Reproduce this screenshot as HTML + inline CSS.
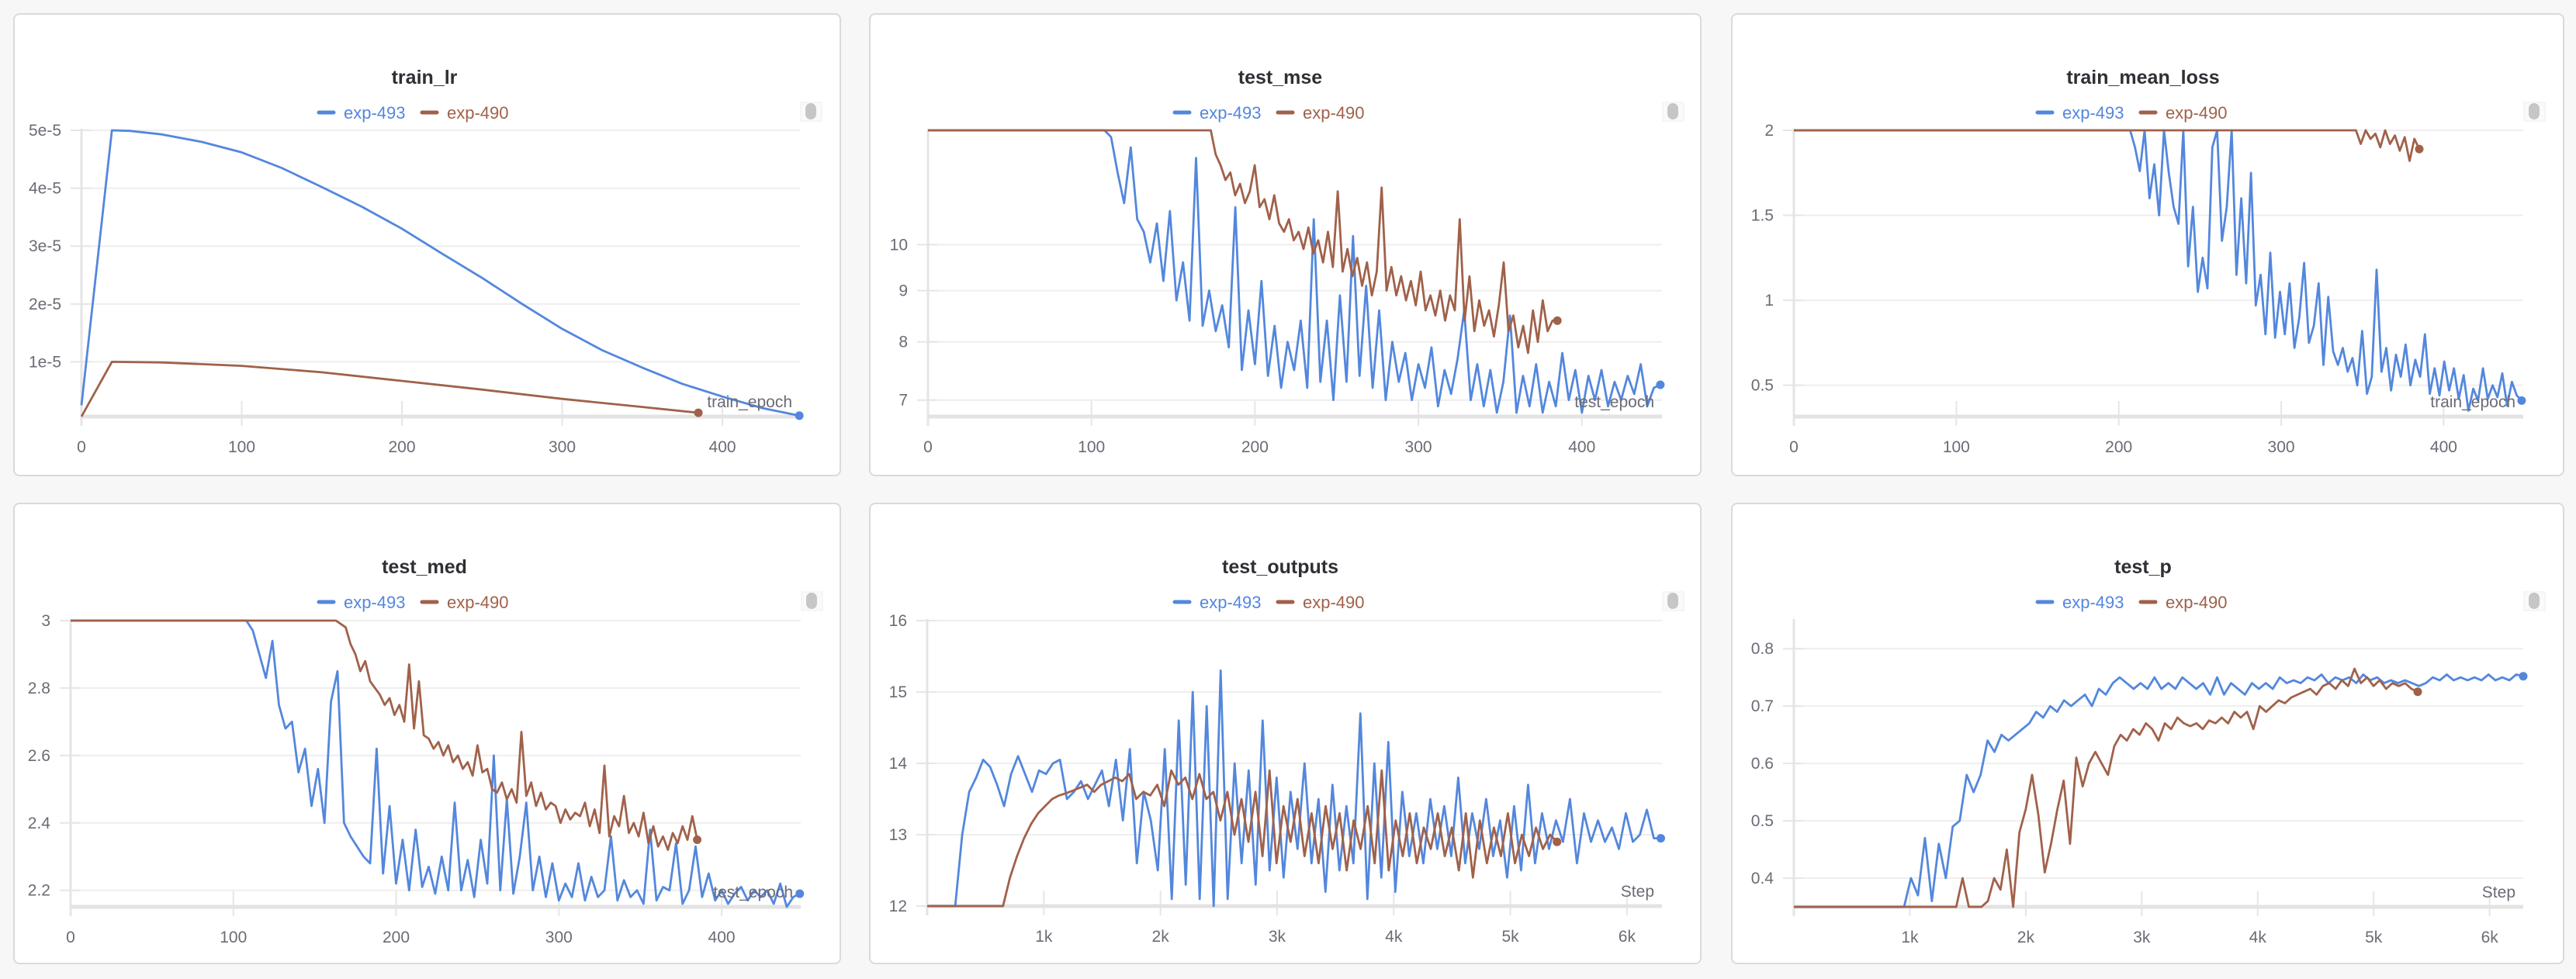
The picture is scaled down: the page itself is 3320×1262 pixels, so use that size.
<!DOCTYPE html>
<html><head><meta charset="utf-8">
<style>
html,body{margin:0;padding:0;}
body{width:3320px;height:1262px;background:#f7f7f7;position:relative;overflow:hidden;font-family:"Liberation Sans",sans-serif;}
.panel{position:absolute;background:#fff;border:2px solid #dadada;border-radius:8px;box-sizing:border-box;}
svg{position:absolute;left:0;top:0;}
</style></head>
<body>
<div class="panel" style="left:17px;top:17px;width:1067px;height:597px"></div>
<div class="panel" style="left:1120px;top:17px;width:1073px;height:597px"></div>
<div class="panel" style="left:2231px;top:17px;width:1074px;height:597px"></div>
<div class="panel" style="left:17px;top:648px;width:1067px;height:595px"></div>
<div class="panel" style="left:1120px;top:648px;width:1073px;height:595px"></div>
<div class="panel" style="left:2231px;top:648px;width:1074px;height:595px"></div>
<svg id="chart" width="3320" height="1262"></svg>
<script>
// ---- data ----
const epochTicks = [0, 100, 200, 300, 400];
const stepTicks = [1, 2, 3, 4, 5, 6];
const stepTickLabels = ['1k', '2k', '3k', '4k', '5k', '6k'];
const seriesNames = ['exp-493', 'exp-490'];

const lrTicks = [1, 2, 3, 4, 5];
const lrTickLabels = ['1e-5', '2e-5', '3e-5', '4e-5', '5e-5'];
const lrBlueX = [0, 19, 30, 50, 75, 100, 125, 150, 175, 200, 225, 250, 275, 300, 325, 350, 375, 400, 425, 448];
const lrBlue = [0.25, 5, 4.99, 4.93, 4.8, 4.62, 4.35, 4.02, 3.68, 3.3, 2.87, 2.45, 2.0, 1.57, 1.2, 0.9, 0.62, 0.4, 0.2, 0.07];
const lrBrownX = [0, 19, 50, 100, 150, 200, 250, 300, 350, 385];
const lrBrown = [0, 1.0, 0.99, 0.93, 0.82, 0.67, 0.52, 0.36, 0.22, 0.12];

const mseTicks = [7, 8, 9, 10];
const mseBlueRange = [108, 448];
const mseBlue = [13.5,12.8,11.8,11.0,12.5,10.6,10.3,9.6,10.5,9.2,10.8,8.8,9.6,8.4,12.2,8.3,9.0,8.2,8.7,7.9,10.9,7.5,8.6,7.6,9.2,7.4,8.3,7.2,8.0,7.5,8.4,7.2,10.6,7.3,8.4,7.0,8.9,7.3,10.2,7.4,9.1,7.2,8.6,7.0,8.0,7.3,7.8,7.0,7.6,7.2,7.9,6.9,7.5,7.1,7.7,8.6,7.0,7.6,6.9,7.5,6.8,7.3,8.5,6.8,7.4,6.9,7.6,6.8,7.3,6.9,7.8,7.0,7.5,6.8,7.4,7.0,7.5,6.9,7.3,7.0,7.4,7.1,7.6,6.9,7.2,7.25];
const mseBrownRange = [173, 385];
const mseBrown = [13.2,12.3,12.0,11.6,11.8,11.2,11.5,11.0,11.3,12.0,10.9,11.1,10.6,11.2,10.5,10.3,10.6,10.1,10.3,9.9,10.4,9.8,10.1,9.6,10.3,9.5,11.3,9.4,9.9,9.3,9.7,9.1,9.6,8.9,9.4,11.4,9.0,9.5,8.9,9.3,8.8,9.2,8.7,9.4,8.6,8.9,8.5,9.0,8.4,8.9,8.6,10.6,8.4,9.3,8.2,8.8,8.3,8.6,8.1,8.7,9.6,8.2,8.5,7.9,8.3,7.8,8.6,8.0,8.8,8.2,8.4,8.4];

const lossTicks = [0.5, 1, 1.5, 2];
const lossBlueRange = [207, 448];
const lossBlue = [2.1,1.9,1.76,2.05,1.6,1.8,1.5,2.1,1.75,1.55,1.45,2.1,1.2,1.55,1.05,1.25,1.07,1.9,2.2,1.35,1.55,2.1,1.15,1.6,1.1,1.75,0.97,1.15,0.8,1.28,0.78,1.05,0.8,1.1,0.72,0.9,1.22,0.75,0.85,1.1,0.62,1.02,0.7,0.62,0.72,0.58,0.66,0.5,0.82,0.45,0.55,1.18,0.58,0.72,0.47,0.68,0.55,0.74,0.5,0.65,0.55,0.8,0.45,0.6,0.44,0.64,0.47,0.6,0.42,0.56,0.35,0.48,0.41,0.6,0.42,0.5,0.43,0.57,0.38,0.52,0.44,0.41];
const lossBrownRange = [346, 385];
const lossBrown = [2.05,1.92,2.0,1.95,1.98,1.9,2.0,1.92,1.97,1.88,1.96,1.82,1.95,1.89];

const medTicks = [2.2, 2.4, 2.6, 2.8, 3];
const medBlueRange = [108, 448];
const medBlue = [3.02,2.97,2.9,2.83,2.94,2.75,2.68,2.7,2.55,2.62,2.45,2.56,2.40,2.76,2.85,2.4,2.36,2.33,2.3,2.28,2.62,2.25,2.45,2.22,2.35,2.2,2.38,2.21,2.27,2.19,2.3,2.2,2.46,2.2,2.29,2.18,2.35,2.22,2.6,2.2,2.47,2.19,2.3,2.46,2.2,2.3,2.18,2.28,2.17,2.22,2.18,2.28,2.17,2.24,2.18,2.2,2.36,2.17,2.23,2.18,2.2,2.16,2.38,2.17,2.21,2.2,2.34,2.16,2.2,2.33,2.18,2.25,2.17,2.2,2.16,2.19,2.21,2.17,2.2,2.18,2.2,2.16,2.22,2.15,2.18,2.19];
const medBrownRange = [163, 385];
const medBrown = [3.02,2.99,2.98,2.93,2.9,2.85,2.88,2.82,2.8,2.78,2.75,2.77,2.72,2.75,2.7,2.87,2.68,2.82,2.66,2.65,2.62,2.64,2.6,2.63,2.58,2.6,2.56,2.58,2.54,2.63,2.55,2.56,2.5,2.49,2.52,2.47,2.5,2.46,2.67,2.48,2.52,2.45,2.49,2.44,2.46,2.45,2.4,2.44,2.41,2.43,2.42,2.46,2.39,2.44,2.37,2.57,2.36,2.42,2.39,2.48,2.37,2.4,2.36,2.43,2.34,2.39,2.33,2.36,2.32,2.37,2.34,2.39,2.35,2.42,2.35];

const outTicks = [12, 13, 14, 15, 16];
const outBlueRange = [0.24, 6.29];
const outBlue = [12.0,13.0,13.6,13.8,14.05,13.95,13.7,13.4,13.85,14.1,13.85,13.6,13.9,13.85,14.0,14.05,13.5,13.6,13.75,13.5,13.7,13.9,13.4,14.05,13.2,14.2,12.6,13.6,13.2,12.5,14.2,12.1,14.6,12.3,15.0,12.1,14.8,12.0,15.3,12.1,14.0,12.6,13.9,12.3,14.6,12.5,13.8,12.4,13.6,12.8,14.0,12.6,13.5,12.2,13.7,12.5,13.4,12.6,14.7,12.1,14.0,12.4,14.3,12.2,13.6,12.7,13.3,12.6,13.5,12.8,13.4,12.7,13.8,12.6,13.3,12.8,13.5,12.7,13.2,12.4,13.4,12.5,13.7,12.6,13.3,12.8,13.2,12.9,13.5,12.6,13.3,12.9,13.2,12.9,13.1,12.8,13.3,12.9,13.0,13.35,12.95,12.95];
const outBrownRange = [0.65, 5.4];
const outBrown = [12.0,12.4,12.7,12.95,13.15,13.3,13.4,13.5,13.55,13.58,13.62,13.66,13.7,13.6,13.7,13.75,13.8,13.75,13.85,13.5,13.6,13.55,13.7,13.4,13.9,13.7,13.8,13.5,13.85,13.5,13.6,13.2,13.6,13.0,13.5,12.9,13.6,12.7,13.9,12.6,13.4,12.9,13.5,12.7,13.3,12.6,13.4,12.8,13.3,12.5,13.2,12.8,13.4,12.6,13.9,12.5,13.2,12.7,13.3,12.6,13.1,12.8,13.3,12.7,13.1,12.5,13.3,12.4,13.2,12.6,13.1,12.7,13.3,12.6,13.0,12.7,13.1,12.8,13.0,12.9];

const pTicks = [0.4, 0.5, 0.6, 0.7, 0.8];
const pBlueRange = [0.95, 6.29];
const pBlue = [0.35,0.40,0.37,0.47,0.36,0.46,0.40,0.49,0.5,0.58,0.55,0.58,0.64,0.62,0.65,0.64,0.65,0.66,0.67,0.69,0.68,0.7,0.69,0.71,0.7,0.71,0.72,0.7,0.73,0.72,0.74,0.75,0.74,0.73,0.74,0.73,0.75,0.73,0.74,0.73,0.75,0.74,0.73,0.74,0.72,0.75,0.72,0.74,0.73,0.72,0.74,0.73,0.74,0.73,0.75,0.74,0.745,0.74,0.75,0.745,0.755,0.74,0.75,0.745,0.75,0.74,0.755,0.745,0.75,0.74,0.745,0.74,0.745,0.74,0.735,0.74,0.75,0.745,0.755,0.745,0.75,0.745,0.75,0.745,0.755,0.745,0.75,0.745,0.755,0.752];
const pBrownRange = [1.40, 5.38];
const pBrown = [0.35,0.40,0.35,0.35,0.35,0.36,0.40,0.38,0.45,0.35,0.48,0.52,0.58,0.51,0.41,0.46,0.52,0.57,0.46,0.61,0.56,0.6,0.62,0.6,0.58,0.63,0.65,0.64,0.66,0.65,0.67,0.66,0.64,0.67,0.66,0.68,0.67,0.665,0.67,0.66,0.675,0.67,0.68,0.67,0.69,0.68,0.69,0.66,0.7,0.69,0.7,0.71,0.705,0.715,0.72,0.725,0.73,0.72,0.735,0.74,0.73,0.745,0.735,0.765,0.74,0.75,0.735,0.745,0.73,0.74,0.735,0.74,0.73,0.725];

// ---- rendering ----
const BLUE = '#5387dd', BROWN = '#a0614a';
const svg = document.getElementById('chart');
const NS = 'http://www.w3.org/2000/svg';
function mk(tag, attrs, parent) {
  const e = document.createElementNS(NS, tag);
  for (const k in attrs) e.setAttribute(k, attrs[k]);
  (parent || svg).appendChild(e);
  return e;
}
function spread(range, vals) {
  const n = vals.length;
  return vals.map((v, i) => range[0] + (range[1] - range[0]) * i / (n - 1));
}

function drawPanel(c) {
  const g = mk('g', {});
  
  
  const L = c.plot[0], R = c.plot[1], T = c.plot[2], B = c.plot[3];
  const tf = c.log ? Math.log : (v => v);
  const y0 = tf(c.yd[0]), y1 = tf(c.yd[1]);
  const sx = v => L + (v - c.xd[0]) / (c.xd[1] - c.xd[0]) * (R - L);
  const syRaw = v => B - (tf(v) - y0) / (y1 - y0) * (B - T);
  const sy = v => Math.max(T, Math.min(B, syRaw(Math.max(v, 1e-9))));

  const t = mk('text', {x: c.cx, y: c.titleY, 'text-anchor': 'middle', 'font-size': 25, 'font-weight': 'bold', fill: '#2f3035'}, g);
  t.textContent = c.title;
  
  
  const lg = mk('g', {}, g);
  
  
  const lx = c.cx - 136, ly = c.titleY + 37;
  const cols = [BLUE, BROWN];
  for (let i = 0; i < 2; i++) {
    const ox = lx + i * 133;
    const e = mk('g', {}, lg);
    
    
    mk('line', {x1: ox, y1: ly, x2: ox + 19, y2: ly, stroke: cols[i], 'stroke-width': 5, 'stroke-linecap': 'round'}, e);
    const tx = mk('text', {x: ox + 32, y: ly + 8, 'font-size': 22, fill: cols[i]}, e);
    tx.textContent = seriesNames[i];
  }
  const sh = mk('g', {}, g);
  
  
  mk('rect', {x: R + 1, y: c.titleY + 24, width: 27, height: 24, fill: '#fafafa', stroke: '#eee', 'stroke-width': 1}, sh);
  mk('rect', {x: R + 7, y: c.titleY + 25, width: 14, height: 21, rx: 7, fill: '#c6c6c6'}, sh);

  c.yTicks.forEach((v, i) => {
    const y = syRaw(v);
    mk('line', {x1: L, y1: y, x2: R, y2: y, stroke: '#eeeeee', 'stroke-width': 2}, g);
    mk('line', {x1: L - 14, y1: y, x2: L + 12, y2: y, stroke: '#e6e6e6', 'stroke-width': 2}, g);
    const tx = mk('text', {x: L - 26, y: y + 7, 'text-anchor': 'end', 'font-size': 21, fill: '#6b6b76'}, g);
    tx.textContent = c.yLabels ? c.yLabels[i] : String(v);
    
    
  });
  mk('line', {x1: L, y1: T - 2, x2: L, y2: B + 12, stroke: '#e4e4e4', 'stroke-width': 3}, g);
  c.xTicks.forEach((v, i) => {
    const x = sx(v);
    mk('line', {x1: x, y1: B - 20, x2: x, y2: B + 12, stroke: '#e6e6e6', 'stroke-width': 2}, g);
    const tx = mk('text', {x: x, y: B + 46, 'text-anchor': 'middle', 'font-size': 21, fill: '#6b6b76'}, g);
    tx.textContent = c.xLabels ? c.xLabels[i] : String(v);
    
    
  });
  mk('line', {x1: L, y1: B, x2: R, y2: B, stroke: '#e3e3e3', 'stroke-width': 5}, g);

  c.series.forEach((s, si) => {
    let xs = s.x.slice(), ys = s.y.slice();
    if (s.lead) { xs.unshift(c.xd[0]); ys.unshift(ys[0]); }
    const d = xs.map((x, i) => (i ? 'L' : 'M') + sx(x).toFixed(1) + ',' + sy(ys[i]).toFixed(1)).join('');
    const p = mk('path', {d: d, fill: 'none', stroke: s.color, 'stroke-width': 2.8, 'stroke-linejoin': 'round'}, g);
    
    
    const n = xs.length - 1;
    const dot = mk('circle', {cx: sx(xs[n]), cy: sy(ys[n]), r: 5.5, fill: s.color}, g);
    
    
  });

  const xt = mk('text', {x: R - 10, y: B - 12, 'text-anchor': 'end', 'font-size': 21, fill: '#6b6b76'}, g);
  xt.textContent = c.xTitle;
  
  
}

drawPanel({name: 'train-lr', title: 'train_lr', cx: 547, titleY: 108, plot: [105, 1031, 168, 537],
  xd: [0, 448.4], yd: [0.054, 5], xTicks: epochTicks, yTicks: lrTicks, yLabels: lrTickLabels, xTitle: 'train_epoch',
  series: [{x: lrBlueX, y: lrBlue, color: BLUE}, {x: lrBrownX, y: lrBrown, color: BROWN}]});

drawPanel({name: 'test-mse', title: 'test_mse', cx: 1650, titleY: 108, plot: [1196, 2142, 168, 537],
  xd: [0, 449], yd: [6.74, 13], log: true, xTicks: epochTicks, yTicks: mseTicks, xTitle: 'test_epoch',
  series: [{x: spread(mseBlueRange, mseBlue), y: mseBlue, color: BLUE, lead: true},
           {x: spread(mseBrownRange, mseBrown), y: mseBrown, color: BROWN, lead: true}]});

drawPanel({name: 'train-mean-loss', title: 'train_mean_loss', cx: 2762, titleY: 108, plot: [2312, 3252, 168, 537],
  xd: [0, 449], yd: [0.316, 2], xTicks: epochTicks, yTicks: lossTicks, xTitle: 'train_epoch',
  series: [{x: spread(lossBlueRange, lossBlue), y: lossBlue, color: BLUE, lead: true},
           {x: spread(lossBrownRange, lossBrown), y: lossBrown, color: BROWN, lead: true}]});

drawPanel({name: 'test-med', title: 'test_med', cx: 547, titleY: 739, plot: [91, 1032, 800, 1169],
  xd: [0, 448.6], yd: [2.151, 3], xTicks: epochTicks, yTicks: medTicks, xTitle: 'test_epoch',
  series: [{x: spread(medBlueRange, medBlue), y: medBlue, color: BLUE, lead: true},
           {x: spread(medBrownRange, medBrown), y: medBrown, color: BROWN, lead: true}]});

drawPanel({name: 'test-outputs', title: 'test_outputs', cx: 1650, titleY: 739, plot: [1195, 2142, 800, 1168],
  xd: [0, 6.30], yd: [12, 16], xTicks: stepTicks, xLabels: stepTickLabels, yTicks: outTicks, xTitle: 'Step',
  series: [{x: spread(outBlueRange, outBlue), y: outBlue, color: BLUE, lead: true},
           {x: spread(outBrownRange, outBrown), y: outBrown, color: BROWN, lead: true}]});

drawPanel({name: 'test-p', title: 'test_p', cx: 2762, titleY: 739, plot: [2312, 3252, 800, 1169],
  xd: [0, 6.29], yd: [0.35, 0.849], xTicks: stepTicks, xLabels: stepTickLabels, yTicks: pTicks, xTitle: 'Step',
  series: [{x: spread(pBlueRange, pBlue), y: pBlue, color: BLUE, lead: true},
           {x: spread(pBrownRange, pBrown), y: pBrown, color: BROWN, lead: true}]});
</script>
</body></html>
